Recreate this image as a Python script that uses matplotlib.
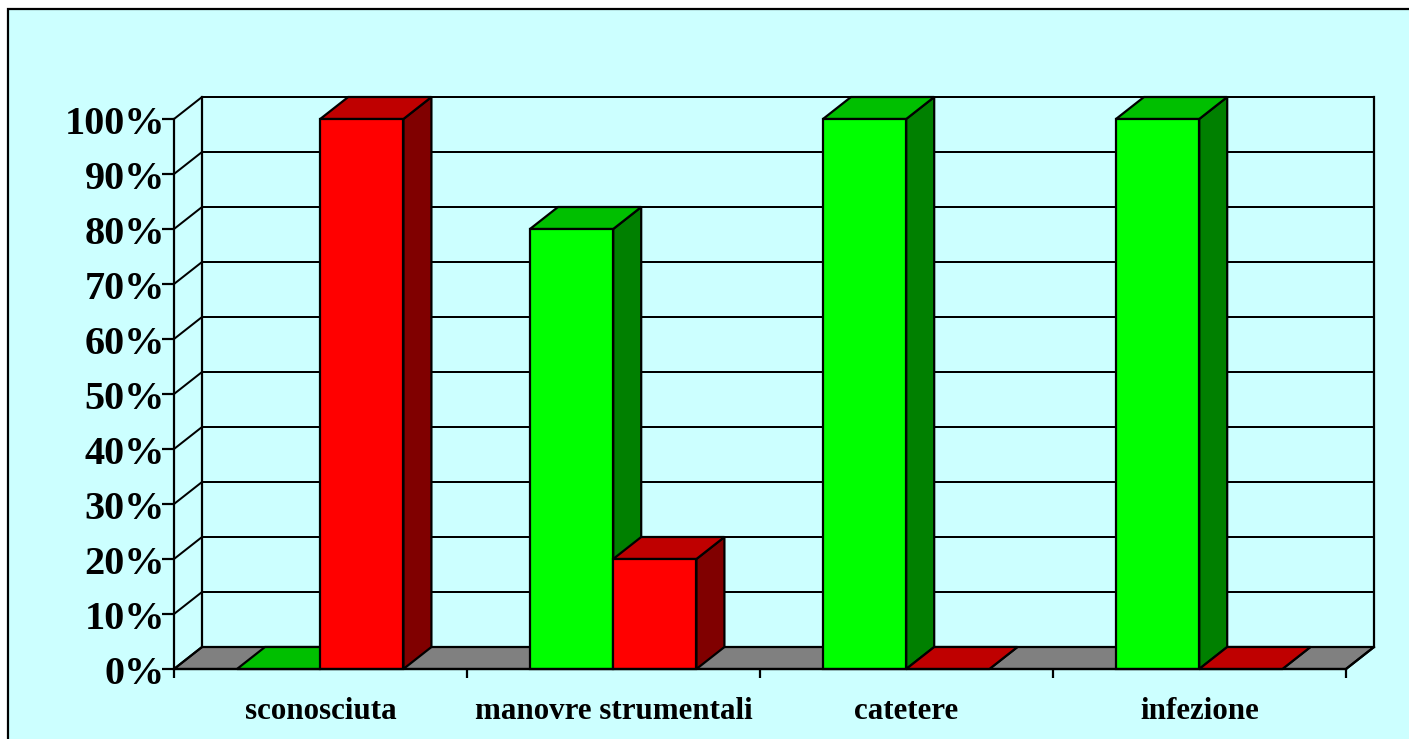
#!/usr/bin/env python3
"""
3D style stacked percent columns (sconosciuta, manovre, catetere, infezione)
"""

import matplotlib
matplotlib.use("Agg")
import matplotlib.pyplot as plt
from matplotlib.patches import Rectangle
from matplotlib.transforms import ScaledTranslation

W, H = 1409, 739

categories = ['sconosciuta', 'manovre strumentali', 'catetere', 'infezione']
green_values = [0, 80, 100, 100]
red_values = [100, 20, 0, 0]
y_ticks = [0, 10, 20, 30, 40, 50, 60, 70, 80, 90, 100]

BG = '#CCFFFF'
GREEN = ('#00FF00', '#00BF00', '#008000')
RED = ('#FF0000', '#BF0000', '#800000')
FLOOR = '#808080'
LW = 1.6

# depth of the fake 3D box, in data units
DX = 28 / 293.0
DY = 4.0
GAP = 0.215
BAR_W = 0.284


def draw_column(ax, x0, value, colors):
    """Front face, top and side of one column"""
    x1 = x0 + BAR_W
    style = dict(edgecolor='black', linewidth=LW, clip_on=False, joinstyle='miter')
    ax.fill([x1, x1 + DX, x1 + DX, x1], [0, DY, value + DY, value], facecolor=colors[2], zorder=3, **style)
    ax.fill([x0, x1, x1 + DX, x0 + DX], [value, value, value + DY, value + DY], facecolor=colors[1], zorder=3, **style)
    if value > 0:
        ax.bar(x0, value, BAR_W, align='edge', color=colors[0], edgecolor='black',
               linewidth=LW, clip_on=False, zorder=3)


def main():
    plt.rcParams['font.family'] = ['Liberation Serif', 'DejaVu Serif']
    plt.rcParams['font.weight'] = 'bold'

    fig = plt.figure(figsize=(W / 100, H / 100), dpi=100, facecolor='white')
    # only the top and left edges of the panel are inside the picture
    fig.add_artist(Rectangle((8 / W, -0.02), 1.02, (H - 9) / H + 0.02, transform=fig.transFigure,
                             facecolor=BG, edgecolor='black', linewidth=LW, zorder=-5))

    ax = fig.add_axes([174 / W, (H - 669) / H, (1346 - 174) / W, 550 / H])
    ax.patch.set_visible(False)
    ax.set_xlim(0, 4)
    ax.set_ylim(0, 100)

    # floor
    ax.fill([0, 4, 4 + DX, DX], [0, 0, DY, DY], facecolor=FLOOR, edgecolor='black',
            linewidth=LW, clip_on=False, zorder=1)

    # walls and gridlines
    for v in y_ticks:
        ax.plot([0, DX, 4 + DX], [v, v + DY, v + DY], color='black', linewidth=LW * 0.9,
                clip_on=False, zorder=1, solid_joinstyle='miter')
    ax.plot([DX, DX], [DY, 100 + DY], color='black', linewidth=LW, clip_on=False, zorder=1)
    ax.plot([4 + DX, 4 + DX], [DY, 100 + DY], color='black', linewidth=LW, clip_on=False, zorder=1)
    ax.plot([4, 4 + DX], [0, DY], color='black', linewidth=LW, clip_on=False, zorder=1)

    # columns
    for i in range(len(categories)):
        draw_column(ax, i + GAP, green_values[i], GREEN)
        draw_column(ax, i + GAP + BAR_W, red_values[i], RED)

    ax.spines['top'].set_visible(False)
    ax.spines['right'].set_visible(False)
    ax.spines['left'].set_linewidth(LW)
    ax.spines['bottom'].set_linewidth(LW)
    ax.spines['left'].set_zorder(4)
    ax.spines['bottom'].set_zorder(4)

    ax.set_yticks(y_ticks)
    ax.set_yticklabels(['%d%%' % v for v in y_ticks], fontsize=29, fontweight='bold')
    ax.tick_params(axis='y', length=8.5, width=LW, pad=-2)
    # labels sit a little under their ticks in the original
    offset = ScaledTranslation(0, -1 / 72, fig.dpi_scale_trans)
    for label in ax.get_yticklabels():
        label.set_transform(label.get_transform() + offset)

    ax.set_xticks(range(5))
    ax.set_xticklabels([])
    ax.tick_params(axis='x', which='major', length=6.5, width=LW)
    ax.set_xticks([i + 0.5 for i in range(4)], minor=True)
    ax.set_xticklabels(categories, minor=True, fontsize=22.3, fontweight='bold')
    ax.tick_params(axis='x', which='minor', length=0, pad=20)

    plt.savefig('out.png', dpi=100)


if __name__ == "__main__":
    main()
